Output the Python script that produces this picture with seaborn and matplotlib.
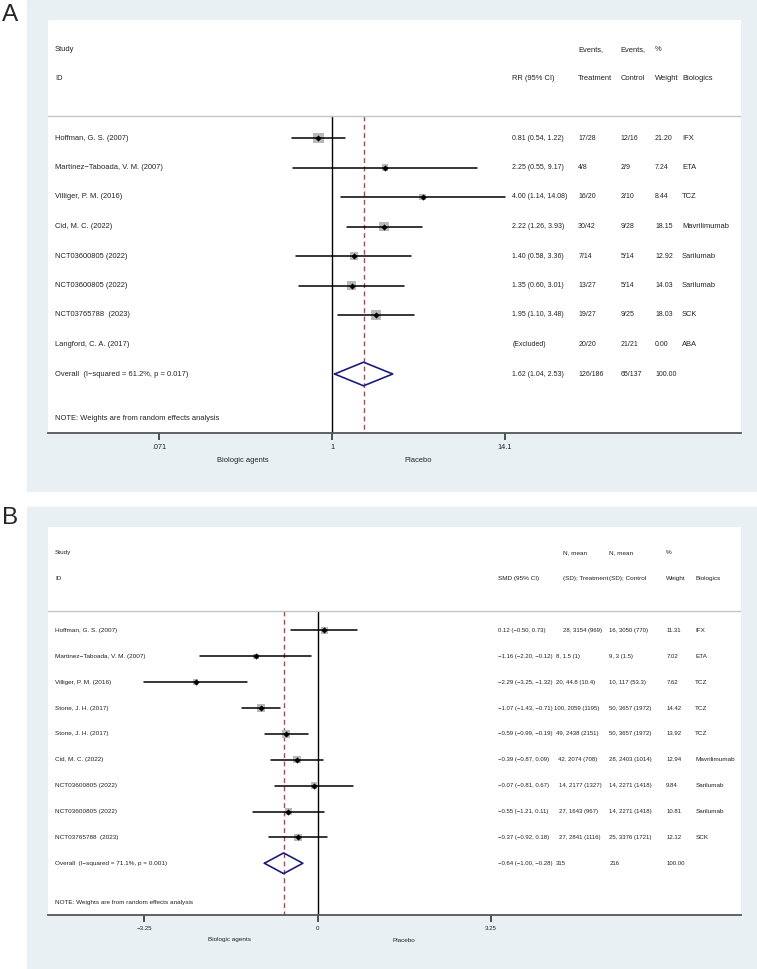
import numpy as np
import matplotlib
matplotlib.use("Agg")
import matplotlib.pyplot as plt
import matplotlib.transforms as mtrans
from matplotlib.patches import Rectangle
import seaborn as sns

# --- data: panel A (risk ratio) ---
a_study = ["Hoffman, G. S. (2007)", "Martínez−Taboada, V. M. (2007)", "Villiger, P. M. (2016)",
           "Cid, M. C. (2022)", "NCT03600805 (2022)", "NCT03600805 (2022)",
           "NCT03765788  (2023)", "Langford, C. A. (2017)"]
a_rr = [0.81, 2.25, 4.00, 2.22, 1.40, 1.35, 1.95, np.nan]
a_lo = [0.54, 0.55, 1.14, 1.26, 0.58, 0.60, 1.10, np.nan]
a_hi = [1.22, 9.17, 14.08, 3.93, 3.36, 3.01, 3.48, np.nan]
a_ci_txt = ["0.81 (0.54, 1.22)", "2.25 (0.55, 9.17)", "4.00 (1.14, 14.08)", "2.22 (1.26, 3.93)",
            "1.40 (0.58, 3.36)", "1.35 (0.60, 3.01)", "1.95 (1.10, 3.48)", "(Excluded)"]
a_trt = ["17/28", "4/8", "16/20", "30/42", "7/14", "13/27", "19/27", "20/20"]
a_ctl = ["12/16", "2/9", "2/10", "9/28", "5/14", "5/14", "9/25", "21/21"]
a_wt = [21.20, 7.24, 8.44, 18.15, 12.92, 14.03, 18.03, 0.00]
a_bio = ["IFX", "ETA", "TCZ", "Mavrilimumab", "Sarilumab", "Sarilumab", "SCK", "ABA"]
a_overall = (1.62, 1.04, 2.53)
a_overall_lab = "Overall  (I−squared = 61.2%, p = 0.017)"
a_overall_row = ["1.62 (1.04, 2.53)", "126/186", "65/137", "100.00"]
a_ticks = [0.071, 1, 14.1]
a_ticklabels = [".071", "1", "14.1"]

# --- data: panel B (standardised mean difference) ---
b_study = ["Hoffman, G. S. (2007)", "Martinez−Taboada, V. M. (2007)", "Villiger, P. M. (2016)",
           "Stone, J. H. (2017)", "Stone, J. H. (2017)", "Cid, M. C. (2022)",
           "NCT03600805 (2022)", "NCT03600805 (2022)", "NCT03765788  (2023)"]
b_smd = [0.12, -1.16, -2.29, -1.07, -0.59, -0.39, -0.07, -0.55, -0.37]
b_lo = [-0.50, -2.20, -3.25, -1.43, -0.99, -0.87, -0.81, -1.21, -0.92]
b_hi = [0.73, -0.12, -1.32, -0.71, -0.19, 0.09, 0.67, 0.11, 0.18]
b_ci_txt = ["0.12 (−0.50, 0.73)", "−1.16 (−2.20, −0.12)", "−2.29 (−3.25, −1.32)",
            "−1.07 (−1.43, −0.71)", "−0.59 (−0.99, −0.19)", "−0.39 (−0.87, 0.09)",
            "−0.07 (−0.81, 0.67)", "−0.55 (−1.21, 0.11)", "−0.37 (−0.92, 0.18)"]
b_trt = ["28, 3154 (969)", "8, 1.5 (1)", "20, 44.8 (10.4)", "100, 2059 (1195)",
         "49, 2438 (2151)", "42, 2074 (708)", "14, 2177 (1327)", "27, 1643 (967)",
         "27, 2841 (1116)"]
b_ctl = ["16, 3050 (770)", "9, 3 (1.5)", "10, 117 (53.3)", "50, 3657 (1972)",
         "50, 3657 (1972)", "28, 2403 (1014)", "14, 2271 (1418)", "14, 2271 (1418)",
         "25, 3376 (1721)"]
b_wt = [11.31, 7.02, 7.62, 14.42, 13.92, 12.94, 9.84, 10.81, 12.12]
b_bio = ["IFX", "ETA", "TCZ", "TCZ", "TCZ", "Mavrilimumab", "Sarilumab", "Sarilumab", "SCK"]
b_overall = (-0.64, -1.00, -0.28)
b_overall_lab = "Overall  (I−squared = 71.1%, p = 0.001)"
b_overall_row = ["−0.64 (−1.00, −0.28)", "315", "216", "100.00"]
b_ticks = [-3.25, 0, 3.25]
b_ticklabels = ["−3.25", "0", "3.25"]

sns.set_style("white")
plt.rcParams['font.family'] = ['Liberation Sans', 'DejaVu Sans']

W, H = 757, 969
BG = "#e9f0f3"
TXT = "#222222"
NAVY = "#1c1c7c"
DASH = "#a8485a"

fig = plt.figure(figsize=(W / 100, H / 100), dpi=100)


def box(x0, y0, x1, y1):
    return [x0 / W, 1 - y1 / H, (x1 - x0) / W, (y1 - y0) / H]


fig.add_artist(Rectangle((27 / W, 1 - 491 / H), (W - 27) / W, 491 / H,
                         transform=fig.transFigure, color=BG, zorder=0))
fig.add_artist(Rectangle((27 / W, 0), (W - 27) / W, (H - 507) / H,
                         transform=fig.transFigure, color=BG, zorder=0))
fig.text(2 / W, 1 - 15 / H, "A", fontsize=17.5, va="center", ha="left")
fig.text(2 / W, 1 - 518 / H, "B", fontsize=17.5, va="center", ha="left")


def forest(ax, study, est, lo, hi, ci_txt, trt, ctl, wt, bio, overall, ov_lab, ov_row,
           heads, cols, fs, fs_num, ylim, sep, note_row, sq_k, null, trt_x=None):
    n = len(study)
    rows = np.arange(n)
    tr = mtrans.blended_transform_factory(ax.transAxes, ax.transData)
    ax.set_facecolor("white")
    ax.set_ylim(*ylim)
    for s in ["top", "left", "right"]:
        ax.spines[s].set_visible(False)
    ax.spines["bottom"].set_color("#555555")
    ax.spines["bottom"].set_linewidth(1.3)

    def put(x, y, s, size):
        ax.text(x, y, s, transform=tr, fontsize=size, va="center", color=TXT)

    # header
    ax.axhline(sep, color="#c4c4c4", lw=1.0)
    put(0.0101, -3, "Study", fs)
    put(0.0101, -2, "ID", fs)
    for (top, bottom), cx in zip(heads, cols):
        if top:
            put(cx, -3, top, fs)
        put(cx, -2, bottom, fs)

    # reference lines
    ax.plot([null, null], [sep, ylim[0]], color="black", lw=1.0, zorder=1)
    ax.plot([overall[0], overall[0]], [sep, ylim[0]], color=DASH, lw=1.0,
            ls=(0, (3.5, 2.5)), zorder=1)

    # study rows
    est = np.asarray(est, float)
    ok = ~np.isnan(est)
    for r in rows[ok]:
        ax.plot([lo[r], hi[r]], [r, r], color="black", lw=1.1, zorder=3)
    sns.scatterplot(x=est[ok], y=rows[ok], ax=ax, marker="s", color="#b9b9b9",
                    s=(sq_k * 0.72) ** 2 * np.asarray(wt)[ok], linewidth=0,
                    legend=False, zorder=2)
    sns.scatterplot(x=est[ok], y=rows[ok], ax=ax, marker="D", color="black",
                    s=10, linewidth=0, legend=False, zorder=4)
    if trt_x is None:
        trt_x = [cols[1]] * (n + 1)
    for r in rows:
        put(0.0101, r, study[r], fs)
        put(cols[0], r, ci_txt[r], fs_num)
        put(trt_x[r], r, trt[r], fs_num)
        put(cols[2], r, ctl[r], fs_num)
        put(cols[3], r, f"{wt[r]:.2f}", fs_num)
        put(cols[4], r, bio[r], fs)

    # overall diamond
    o = n
    m, l, h = overall
    ax.plot([l, m, h, m, l], [o, o - 0.4, o, o + 0.4, o], color=NAVY, lw=1.2, zorder=3)
    put(0.0101, o, ov_lab, fs)
    put(cols[0], o, ov_row[0], fs_num)
    put(trt_x[n], o, ov_row[1], fs_num)
    put(cols[2], o, ov_row[2], fs_num)
    put(cols[3], o, ov_row[3], fs_num)
    put(0.0101, note_row, "NOTE: Weights are from random effects analysis", fs)
    ax.set_yticks([])
    ax.set_xlabel("")
    ax.set_ylabel("")


# ---- panel A ----
axA = fig.add_axes(box(48, 20, 741, 433))
axA.set_xscale("log")
axA.set_xlim(np.exp(-4.343), np.exp(6.254))
forest(axA, a_study, a_rr, a_lo, a_hi, a_ci_txt, a_trt, a_ctl, a_wt, a_bio, a_overall,
       a_overall_lab, a_overall_row,
       [("", "RR (95% CI)"), ("Events,", "Treatment"), ("Events,", "Control"),
        ("%", "Weight"), ("", "Biologics")],
       [0.670, 0.765, 0.826, 0.876, 0.915], 5.4, 5.0, (10.0, -4.0), -0.73, 9.5, 2.3, 1)
axA.set_xticks(a_ticks)
axA.set_xticklabels(a_ticklabels)
axA.xaxis.set_minor_locator(matplotlib.ticker.NullLocator())
axA.tick_params(axis="x", bottom=True, length=5, width=1.2, color="#333333",
                labelsize=5.2, pad=3, labelcolor=TXT)
fig.text(243 / W, 1 - 460 / H, "Biologic agents", fontsize=5.4, ha="center", va="center", color=TXT)
fig.text(418 / W, 1 - 460 / H, "Placebo", fontsize=5.4, ha="center", va="center", color=TXT)

# ---- panel B ----
# treatment-column start per row (pixels), Stata shifts it after long CI strings
b_trt_px = [562.7, 556, 556, 554, 556, 558, 559.3, 559.3, 559.3, 556]
axB = fig.add_axes(box(48, 527, 741, 915))
axB.set_xlim(-5.06, 7.94)
forest(axB, b_study, b_smd, b_lo, b_hi, b_ci_txt, b_trt, b_ctl, b_wt, b_bio, b_overall,
       b_overall_lab, b_overall_row,
       [("", "SMD (95% CI)"), ("N, mean", "(SD); Treatment"), ("N, mean", "(SD); Control"),
        ("%", "Weight"), ("", "Biologics")],
       [0.649, 0.743, 0.810, 0.892, 0.934], 4.6, 4.3, (11.0, -4.0), -0.76, 10.5, 2.05, 0,
       trt_x=[(p - 48) / 693 for p in b_trt_px])
axB.set_xticks(b_ticks)
axB.set_xticklabels(b_ticklabels)
axB.tick_params(axis="x", bottom=True, length=5, width=1.2, color="#333333",
                labelsize=4.4, pad=3, labelcolor=TXT)
fig.text(229.5 / W, 1 - 940 / H, "Biologic agents", fontsize=4.6, ha="center", va="center", color=TXT)
fig.text(403.5 / W, 1 - 940 / H, "Placebo", fontsize=4.6, ha="center", va="center", color=TXT)

fig.savefig("out.png", dpi=100, facecolor="white")
